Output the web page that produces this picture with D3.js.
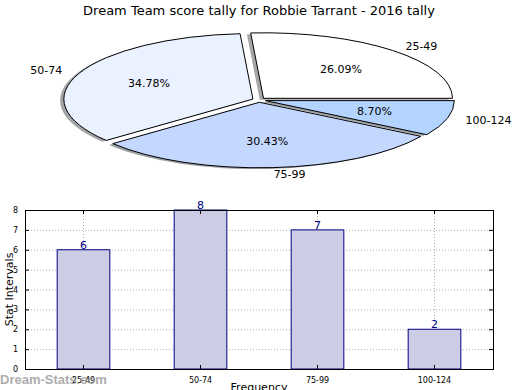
<!DOCTYPE html>
<html>
<head>
<meta charset="utf-8">
<script src="https://cdn.jsdelivr.net/npm/d3@7"></script>
<style>
  body { margin: 0; background: #fff; }
  text { font-family: "DejaVu Sans", sans-serif; }
</style>
</head>
<body>
<svg id="chart" width="520" height="390"></svg>
<script>
var title = "Dream Team score tally for Robbie Tarrant - 2016 tally";
var categories = ["25-49", "50-74", "75-99", "100-124"];
var counts = [6, 8, 7, 2];
var sliceColors = ["#ffffff", "#ebf2ff", "#c4d7ff", "#b3d4ff"];
var yTicks = [0, 1, 2, 3, 4, 5, 6, 7, 8];

var svg = d3.select("#chart");

svg.append("text")
    .attr("x", 259)
    .attr("y", 15)
    .attr("text-anchor", "middle")
    .style("font-size", "13px")
    .text(title);

// ---- pie (squashed like the original) ----
var pieBox = {cx: 259, cy: 100, rx: 189, ry: 65.5},
    explode = 0.035;

var pie = d3.pie().sort(null)
    .startAngle(Math.PI / 2)
    .endAngle(Math.PI / 2 - 2 * Math.PI);
var slices = pie(counts);
var total = d3.sum(counts);

var arc = d3.arc().innerRadius(0).outerRadius(1);

function offsetFor(d, k) {
  var m = (d.startAngle + d.endAngle) / 2;
  return [pieBox.cx + k * pieBox.rx * Math.sin(m), pieBox.cy - k * pieBox.ry * Math.cos(m)];
}

var pg = svg.append("g");

// shadows first, under every wedge
pg.selectAll(".shadow")
  .data(slices)
  .enter().append("path")
    .attr("class", "shadow")
    .attr("d", arc)
    .attr("transform", function(d) {
      var p = offsetFor(d, explode);
      return "translate(" + (p[0] - 0.02 * pieBox.rx) + "," + (p[1] + 0.02 * pieBox.ry) + ") scale(" + pieBox.rx + "," + pieBox.ry + ")";
    })
    .attr("fill", function(d, i) { var c = d3.rgb(sliceColors[i]); return d3.rgb(c.r * 0.3, c.g * 0.3, c.b * 0.3); })
    .attr("opacity", 0.5);

pg.selectAll(".wedge")
  .data(slices)
  .enter().append("path")
    .attr("class", "wedge")
    .attr("d", arc)
    .attr("transform", function(d) {
      var p = offsetFor(d, explode);
      return "translate(" + p[0] + "," + p[1] + ") scale(" + pieBox.rx + "," + pieBox.ry + ")";
    })
    .attr("fill", function(d, i) { return sliceColors[i]; })
    .attr("stroke", "#000")
    .attr("stroke-width", 1)
    .attr("vector-effect", "non-scaling-stroke");

pg.selectAll(".plabel")
  .data(slices)
  .enter().append("text")
    .attr("class", "plabel")
    .attr("x", function(d) { return offsetFor(d, 1.1 + explode)[0]; })
    .attr("y", function(d) { return offsetFor(d, 1.1 + explode)[1]; })
    .attr("dy", "0.35em")
    .attr("text-anchor", function(d) { return offsetFor(d, 1)[0] > pieBox.cx ? "start" : "end"; })
    .style("font-size", "11px")
    .text(function(d, i) { return categories[i]; });

pg.selectAll(".pct")
  .data(slices)
  .enter().append("text")
    .attr("class", "pct")
    .attr("x", function(d) { return offsetFor(d, 0.6 + explode)[0]; })
    .attr("y", function(d) { return offsetFor(d, 0.6 + explode)[1]; })
    .attr("dy", "0.35em")
    .attr("text-anchor", "middle")
    .style("font-size", "11px")
    .text(function(d) { return (d.value / total * 100).toFixed(2) + "%"; });

// ---- bar chart ----
var margins = {top: 210, left: 25, right: 27, bottom: 21};
var width = 520 - margins.left - margins.right,
    height = 390 - margins.top - margins.bottom;

var x = d3.scaleBand().domain(categories).range([0, width]).paddingInner(0.55).paddingOuter(0.275),
    y = d3.scaleLinear().domain([0, 8]).range([height, 0]);

var g = svg.append("g")
    .attr("transform", "translate(" + margins.left + "," + margins.top + ")");

// dotted grid
g.selectAll(".hgrid")
  .data(yTicks.slice(1, -1))
  .enter().append("line")
    .attr("x1", 0).attr("x2", width)
    .attr("y1", function(d) { return y(d) + 0.5; })
    .attr("y2", function(d) { return y(d) + 0.5; })
    .attr("stroke", "#b0b0b0")
    .attr("stroke-dasharray", "1,2");

g.selectAll(".vgrid")
  .data(categories)
  .enter().append("line")
    .attr("x1", function(d) { return Math.round(x(d) + x.bandwidth() / 2) + 0.5; })
    .attr("x2", function(d) { return Math.round(x(d) + x.bandwidth() / 2) + 0.5; })
    .attr("y1", 0).attr("y2", height)
    .attr("stroke", "#b0b0b0")
    .attr("stroke-dasharray", "1,2");

g.selectAll(".bar")
  .data(counts)
  .enter().append("rect")
    .attr("class", "bar")
    .attr("x", function(d, i) { return x(categories[i]); })
    .attr("y", function(d) { return y(d); })
    .attr("width", x.bandwidth())
    .attr("height", function(d) { return height - y(d); })
    .attr("fill", "#ccccE4")
    .attr("stroke", "#000080")
    .attr("stroke-width", 1);

g.selectAll(".val")
  .data(counts)
  .enter().append("text")
    .attr("x", function(d, i) { return x(categories[i]) + x.bandwidth() / 2; })
    .attr("y", function(d) { return y(d) - 1; })
    .attr("text-anchor", "middle")
    .attr("fill", "#000080")
    .style("font-size", "11px")
    .text(function(d) { return d; });

// axes, ticks inside like the original
var yAxis = g.append("g")
    .call(d3.axisLeft(y).tickValues(yTicks).tickSizeInner(-4).tickSizeOuter(0).tickPadding(7));
var yAxisR = g.append("g")
    .attr("transform", "translate(" + width + ",0)")
    .call(d3.axisRight(y).tickValues(yTicks).tickSizeInner(-4).tickSizeOuter(0).tickFormat(""));
var xAxis = g.append("g")
    .attr("transform", "translate(0," + height + ")")
    .call(d3.axisBottom(x).tickSizeInner(-4).tickSizeOuter(0).tickPadding(8));
var xAxisT = g.append("g")
    .call(d3.axisTop(x).tickSizeInner(-4).tickSizeOuter(0).tickFormat(""));

[yAxis, yAxisR, xAxis, xAxisT].forEach(function(a) {
  a.select(".domain").remove();
  a.selectAll("text").style("font-size", "8px").attr("fill", "#000");
});

g.append("rect")
    .attr("x", 0.5).attr("y", 0.5)
    .attr("width", width).attr("height", height)
    .attr("fill", "none")
    .attr("stroke", "#000");

g.append("text")
    .attr("transform", "rotate(-90)")
    .attr("x", -height / 2)
    .attr("y", -12)
    .attr("text-anchor", "middle")
    .style("font-size", "11px")
    .text("Stat Intervals");

g.append("text")
    .attr("x", width / 2)
    .attr("y", height + 22)
    .attr("text-anchor", "middle")
    .style("font-size", "11px")
    .text("Frequency");

// watermark sits over the first tick label, as in the original
svg.append("text")
    .attr("x", 0)
    .attr("y", 384)
    .attr("fill", "#999")
    .attr("opacity", 0.8)
    .style("font-family", "'Liberation Sans', Arial, sans-serif")
    .style("font-size", "13px")
    .style("font-weight", "bold")
    .text("Dream-Stats.com");
</script>
</body>
</html>
